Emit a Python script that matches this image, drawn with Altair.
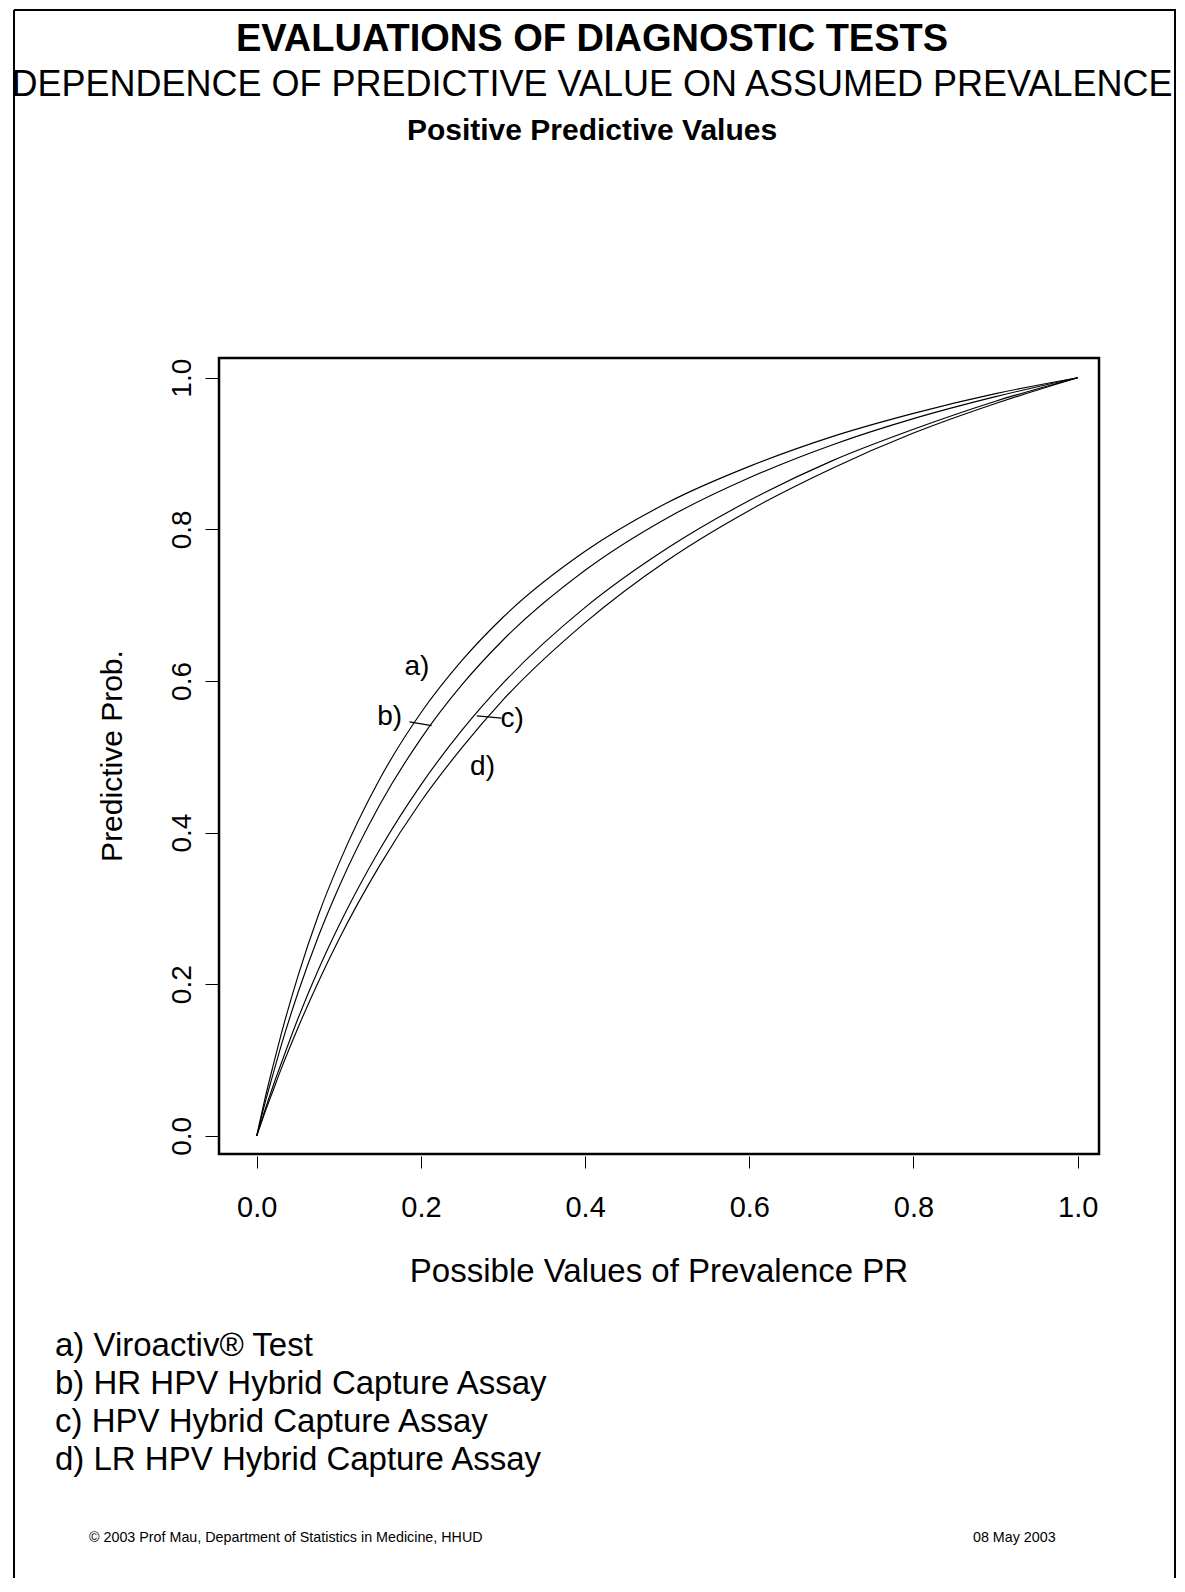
import altair as alt
import pandas as pd

# ---------------- data ----------------
prevalence = [0, 0.01, 0.02, 0.03, 0.05, 0.075, 0.1, 0.15, 0.2, 0.25, 0.3,
              0.4, 0.5, 0.6, 0.7, 0.8, 0.9, 1.0]
ppv_a = [0, 0.049, 0.093, 0.135, 0.210, 0.291, 0.359, 0.471, 0.558, 0.627,
         0.684, 0.771, 0.835, 0.883, 0.922, 0.953, 0.979, 1.0]
ppv_b = [0, 0.043, 0.082, 0.120, 0.188, 0.263, 0.328, 0.437, 0.524, 0.595,
         0.654, 0.746, 0.815, 0.868, 0.911, 0.946, 0.975, 1.0]
ppv_c = [0, 0.034, 0.066, 0.096, 0.154, 0.219, 0.277, 0.378, 0.463, 0.535,
         0.597, 0.697, 0.775, 0.838, 0.890, 0.932, 0.969, 1.0]
ppv_d = [0, 0.031, 0.060, 0.089, 0.142, 0.203, 0.259, 0.357, 0.441, 0.512,
         0.575, 0.677, 0.759, 0.825, 0.880, 0.927, 0.966, 1.0]
series_names = ["a", "b", "c", "d"]

tick_values = [0.0, 0.2, 0.4, 0.6, 0.8, 1.0]

label_text = ["a)", "b)", "c)", "d)"]
label_x = [0.195, 0.162, 0.311, 0.275]
label_y = [0.619, 0.553, 0.550, 0.487]

pointer_x = [0.186, 0.268]
pointer_y = [0.546, 0.554]
pointer_x2 = [0.213, 0.298]
pointer_y2 = [0.541, 0.551]

title_lines = ["EVALUATIONS OF DIAGNOSTIC TESTS",
               "DEPENDENCE OF PREDICTIVE VALUE ON ASSUMED PREVALENCE",
               "Positive Predictive Values"]
x_title = "Possible Values of Prevalence PR"
y_title = "Predictive Prob."
legend_lines = ["a) Viroactiv\u00ae Test",
                "b) HR HPV Hybrid Capture Assay",
                "c) HPV Hybrid Capture Assay",
                "d) LR HPV Hybrid Capture Assay"]
footer_left = "\u00a9 2003 Prof Mau, Department of Statistics in Medicine, HHUD"
footer_right = "08 May 2003"

FONT = "Liberation Sans"

# ---------------- tables ----------------
rows = []
for name, vals in zip(series_names, [ppv_a, ppv_b, ppv_c, ppv_d]):
    for p, v in zip(prevalence, vals):
        rows.append({"series": name, "p": p, "v": v})
curves = pd.DataFrame(rows)
labels = pd.DataFrame({"p": label_x, "v": label_y, "t": label_text})
pointers = pd.DataFrame({"p": pointer_x, "v": pointer_y, "p2": pointer_x2, "v2": pointer_y2})
one = pd.DataFrame({"k": [0]})

W, H = 880, 796

xscale = alt.Scale(domain=[-0.046, 1.026], nice=False, zero=False)
yscale = alt.Scale(domain=[-0.024, 1.026], nice=False, zero=False)

xaxis = alt.Axis(values=tick_values, format=".1f", domain=False, grid=False,
                 tickSize=12, offset=2, tickColor="black", tickWidth=1,
                 labelFont=FONT, labelFontSize=29, labelColor="black",
                 labelPadding=25, title=None)
yaxis = alt.Axis(values=tick_values, format=".1f", domain=False, grid=False,
                 tickSize=14, tickColor="black", tickWidth=1,
                 labelFont=FONT, labelFontSize=28, labelColor="black",
                 labelAngle=270, labelAlign="center", labelBaseline="alphabetic",
                 labelPadding=15, title=None)

lines = alt.Chart(curves).mark_line(color="black", strokeWidth=1.15,
                                    interpolate="monotone").encode(
    x=alt.X("p:Q", scale=xscale, axis=xaxis),
    y=alt.Y("v:Q", scale=yscale, axis=yaxis),
    detail="series:N",
    order="p:Q",
)

lab = alt.Chart(labels).mark_text(font=FONT, fontSize=28, color="black",
                                  align="center", baseline="middle").encode(
    x=alt.X("p:Q", scale=xscale), y=alt.Y("v:Q", scale=yscale), text="t:N")

ptr = alt.Chart(pointers).mark_rule(color="black", strokeWidth=1.2).encode(
    x=alt.X("p:Q", scale=xscale), y=alt.Y("v:Q", scale=yscale),
    x2="p2:Q", y2="v2:Q")


def txt(s, x, y, size, weight="normal", align="center", angle=0):
    kw = dict(text=s, font=FONT, fontSize=size, fontWeight=weight,
              color="black", align=align, baseline="middle")
    if angle:
        kw["angle"] = angle
    return alt.Chart(one).mark_text(**kw).encode(x=alt.value(x), y=alt.value(y))


def rule(x, y, x2, y2, w=2):
    return alt.Chart(one).mark_rule(color="black", strokeWidth=w).encode(
        x=alt.value(x), y=alt.value(y), x2=alt.value(x2), y2=alt.value(y2))


texts = [
    txt(title_lines[0], 373, -318, 38, "bold"),
    txt(title_lines[1], 373, -273, 36),
    txt(title_lines[2], 373, -227, 30, "bold"),
    txt(x_title, 440, 914, 33),
    txt(y_title, -106, 398, 30, angle=270),
    txt(footer_left, -130, 1180, 14.3, align="left"),
    txt(footer_right, 754, 1180, 14.3, align="left"),
]
for i, s in enumerate(legend_lines):
    texts.append(txt(s, -164, 988 + 38 * i, 33, align="left"))

frame = [
    rule(-205, -348, 957, -348),
    rule(-205, -348, -205, 1220),
    rule(956, -348, 956, 1220),
]

chart = alt.layer(lines, ptr, lab, *texts, *frame).properties(
    width=W, height=H,
    autosize=alt.AutoSizeParams(type="none"),
    padding={"left": 211, "top": 350, "right": 78, "bottom": 424},
    background="white",
).configure_view(stroke="black", strokeWidth=2.5)

chart.save("out.html", embed_options={"renderer": "svg", "actions": False})
